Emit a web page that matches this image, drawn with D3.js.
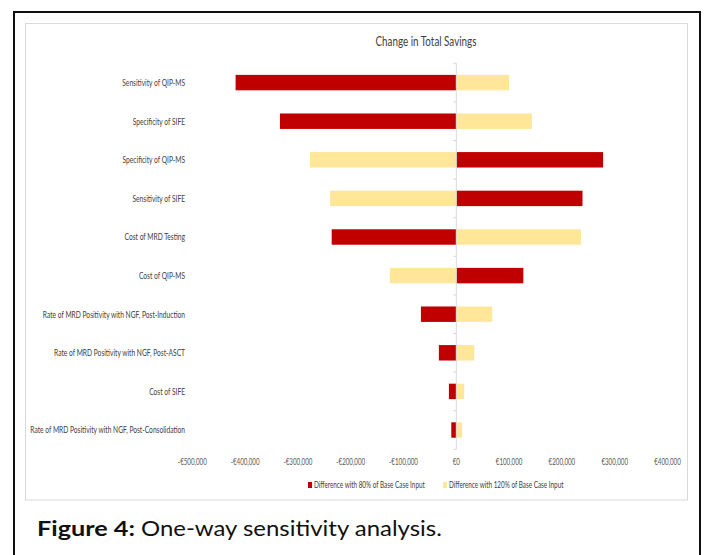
<!DOCTYPE html>
<html>
<head>
<meta charset="utf-8">
<script src="https://cdn.jsdelivr.net/npm/d3@7"></script>
<style>
  html, body { margin: 0; padding: 0; background: #fff; }
  svg { display: block; }
</style>
</head>
<body>
<svg id="chart" width="704" height="555"></svg>
<script>
// Tornado chart data: change in total savings per input parameter
const categories = [
  "Sensitivity of QIP-MS",
  "Specificity of SIFE",
  "Specificity of QIP-MS",
  "Sensitivity of SIFE",
  "Cost of MRD Testing",
  "Cost of QIP-MS",
  "Rate of MRD Positivity with NGF, Post-Induction",
  "Rate of MRD Positivity with NGF, Post-ASCT",
  "Cost of SIFE",
  "Rate of MRD Positivity with NGF, Post-Consolidation"
];
// Difference with 80% of base case input
const low80 = [-418000, -334000, 278000, 239000, -236000, 127000, -67000, -33000, -14000, -9500];
// Difference with 120% of base case input
const high120 = [100000, 143000, -277000, -239000, 236000, -126000, 68000, 34000, 15000, 11000];
const tickValues = [-500000, -400000, -300000, -200000, -100000, 0, 100000, 200000, 300000, 400000];
const seriesNames = ["Difference with 80% of Base Case Input", "Difference with 120% of Base Case Input"];
const seriesColors = ["#C00000", "#FFE699"];

const svg = d3.select("#chart");
const FONT = "Lato, 'Open Sans', sans-serif";

// Narrow a text horizontally around its own x anchor by factor k
function squeeze(node, k) {
  const ax = +node.getAttribute("x");
  node.setAttribute("transform", `translate(${ax},0) scale(${k},1) translate(${-ax},0)`);
}
// Squeeze a group of labels so that a reference label spans the given width
function condense(sel, refWidth, refNatural) {
  const k = refWidth / refNatural;
  sel.each(function () { squeeze(this, k); });
}
function fitWidth(sel, width) {
  const w = sel.node().getComputedTextLength();
  squeeze(sel.node(), width / w);
}

// Frames
svg.append("path")
  .attr("d", "M14,556 V12 H700 V556")
  .attr("fill", "none").attr("stroke", "#111").attr("stroke-width", 2);
svg.append("rect")
  .attr("x", 25.5).attr("y", 23.5).attr("width", 662).attr("height", 476.5)
  .attr("fill", "#fff").attr("stroke", "#d9d9d9").attr("stroke-width", 1);

// Scales
const x = d3.scaleLinear().domain([-500000, 400000]).range([192.3, 667.5]);
const y = d3.scaleBand().domain(categories).range([63.3, 449.3]).paddingInner(0.6).paddingOuter(0.3);
const step = y.step();

// Title
const title = svg.append("text")
  .attr("x", 426).attr("y", 46).attr("text-anchor", "middle")
  .attr("font-family", FONT).attr("font-size", 13.5).attr("fill", "#404040")
  .text("Change in Total Savings");
fitWidth(title, 101);

// Bars
const rows = categories.map((c, i) => ({ c, a: low80[i], b: high120[i] }));
const bars = svg.append("g");
[["a", seriesColors[0]], ["b", seriesColors[1]]].forEach(([key, col]) => {
  bars.selectAll(null).data(rows).join("rect")
    .attr("x", d => x(Math.min(0, d[key])))
    .attr("width", d => Math.abs(x(d[key]) - x(0)))
    .attr("y", d => y(d.c))
    .attr("height", y.bandwidth())
    .attr("fill", col);
});

// Category axis at zero, with ticks between categories
const axisG = svg.append("g").attr("stroke", "#d9d9d9").attr("stroke-width", 1);
axisG.append("line")
  .attr("x1", x(0)).attr("x2", x(0))
  .attr("y1", y.range()[0]).attr("y2", y.range()[1]);
d3.range(categories.length + 1).forEach(i => {
  const yy = y.range()[0] + i * step;
  axisG.append("line").attr("x1", x(0) - 3).attr("x2", x(0)).attr("y1", yy).attr("y2", yy);
});

// Category labels
const catLabels = svg.append("g").selectAll("text").data(categories).join("text")
  .attr("x", 185).attr("y", d => y(d) + y.bandwidth() / 2)
  .attr("dy", "0.35em").attr("text-anchor", "end")
  .attr("font-family", FONT).attr("font-size", 10).attr("fill", "#404040")
  .text(d => d);
{
  const longest = catLabels.filter((d, i) => i === categories.length - 1).node().getComputedTextLength();
  condense(catLabels, 155, longest);
}

// Value axis labels
const fmt = v => (v < 0 ? "-" : "") + "€" + d3.format(",")(Math.abs(v));
const tickLabels = svg.append("g").selectAll("text").data(tickValues).join("text")
  .attr("x", d => x(d)).attr("y", 465).attr("text-anchor", "middle")
  .attr("font-family", FONT).attr("font-size", 9).attr("fill", "#595959")
  .text(fmt);
{
  const ref = tickLabels.filter((d, i) => i === 0).node().getComputedTextLength();
  condense(tickLabels, 29, ref);
}

// Legend
const legend = svg.append("g");
const legendX = [308, 443];
seriesNames.forEach((name, i) => {
  legend.append("rect")
    .attr("x", legendX[i]).attr("y", 482).attr("width", 4).attr("height", 6)
    .attr("fill", seriesColors[i]);
  legend.append("text")
    .attr("class", "lg")
    .attr("x", legendX[i] + 6).attr("y", 488.5)
    .attr("font-family", FONT).attr("font-size", 9).attr("fill", "#404040")
    .text(name);
});
{
  const lg = legend.selectAll("text.lg");
  const ref = lg.filter((d, i) => i === 0).node().getComputedTextLength();
  condense(lg, 111, ref);
}

// Figure caption
const capBold = svg.append("text")
  .attr("x", 37).attr("y", 536)
  .attr("font-family", FONT).attr("font-size", 21).attr("font-weight", "bold").attr("fill", "#111")
  .text("Figure 4:");
fitWidth(capBold, 98);
const capText = svg.append("text")
  .attr("x", 141).attr("y", 536)
  .attr("font-family", FONT).attr("font-size", 21).attr("fill", "#111")
  .text("One-way sensitivity analysis.");
fitWidth(capText, 301);
</script>
</body>
</html>
